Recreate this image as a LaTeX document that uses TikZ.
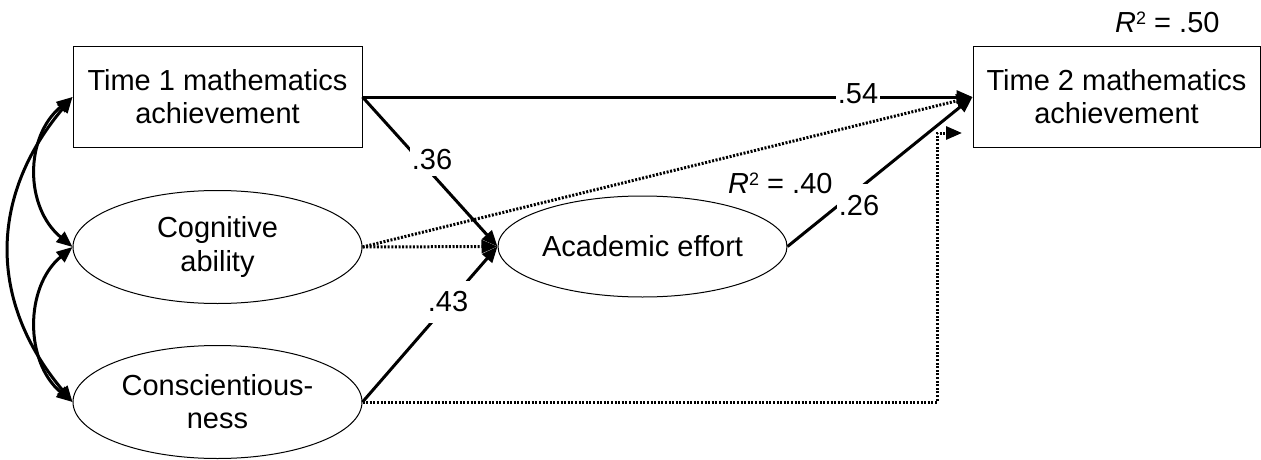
\documentclass[tikz,border=0pt]{standalone}
\usepackage{fontspec}
\setmainfont{Liberation Sans}
\usetikzlibrary{arrows.meta,shapes.geometric}
\newcommand{\rsq}{\textit{R}\raisebox{8pt}{\fontsize{18}{18}\selectfont 2}}
\begin{document}
\begin{tikzpicture}[x=1pt,y=-1pt,
  every node/.style={font=\fontsize{29}{33}\selectfont},
  boxnode/.style={draw,line width=1pt,rectangle,minimum width=289pt,minimum height=100pt,inner sep=0pt,align=center},
  ellnode/.style={draw,line width=1pt,ellipse,minimum width=289pt,minimum height=113pt,inner sep=0pt,align=center},
  conn/.style={line width=3pt,-{Triangle[length=16pt,width=13pt]}},
  dotconn/.style={line width=3pt,dash pattern=on 2pt off 1.6pt,-{Triangle[length=16pt,width=13pt]}},
  corr/.style={line width=3pt,{Triangle[length=16pt,width=13pt]}-{Triangle[length=16pt,width=13pt]}},
  lbl/.style={fill=white,inner xsep=2pt,inner ysep=3pt}
]
\useasboundingbox (0,0) rectangle (1261,460);

% nodes
\node[boxnode] (t1) at (217.5,97) {Time 1 mathematics\\achievement};
\node[ellnode] (cog) at (217.5,247) {Cognitive\\ability};
\node[ellnode] (con) at (217.5,402) {Conscientious-\\ness};
\node[ellnode,minimum height=101pt] (ae) at (642.5,246.5) {Academic effort};
\node[boxnode,minimum width=287pt] (t2) at (1116.5,97) {Time 2 mathematics\\achievement};
\node[anchor=base west,inner sep=0pt] (r2b) at (1115,33) {\rsq{} = .50};
\node[anchor=base west,inner sep=0pt] (r2a) at (728,193) {\rsq{} = .40};

% correlations
\draw[corr] (t1.west) .. controls +(-48,40) and +(-48,-40) .. (cog.west);
\draw[corr] (cog.west) .. controls +(-48,40) and +(-48,-40) .. (con.west);
\draw[corr] (t1.west) .. controls +(-84,100) and +(-84,-100) .. (con.west);

% dotted paths
\draw[dotconn] (cog.east) -- (ae.west);
\draw[dotconn] (cog.east) -- (t2.west);
\coordinate (bend) at (937,133);
\coordinate (c2) at (962,133);
\draw[dotconn] (con.east) -| (bend) -- (c2);

% solid paths
\draw[conn] (t1.east) -- (t2.west);
\draw[conn] (t1.east) -- (ae.west);
\draw[conn] (con.east) -- (ae.west);
\draw[conn] (ae.east) -- (t2.west);

% labels
\node[lbl] (l54) at (858,94) {.54};
\node[lbl,inner ysep=6pt] (l36) at (432,160) {.36};
\node[lbl,inner ysep=11pt] (l43) at (448,302) {.43};
\node[lbl,inner ysep=12pt] (l26) at (859,206) {.26};
\end{tikzpicture}
\end{document}
